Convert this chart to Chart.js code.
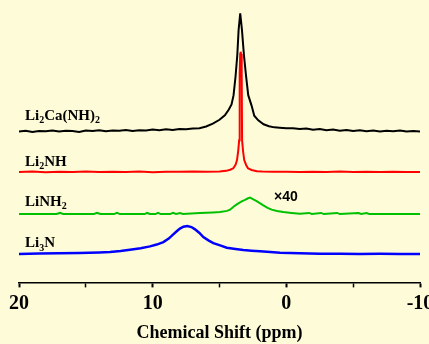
<!DOCTYPE html>
<html>
<head>
<meta charset="utf-8">
<script src="https://cdn.jsdelivr.net/npm/chart.js@4.4.1/dist/chart.umd.min.js"></script>
<style>
  html, body { margin: 0; padding: 0; background: #fefcd8; overflow: hidden; }
  #wrap { position: relative; width: 440px; height: 344px; }
</style>
</head>
<body>
<div id="wrap"><canvas id="nmr" width="440" height="344"></canvas></div>
<script>
// Li2Ca(NH)2 (black)
const caShift = [20, 19.5, 19, 18.5, 18, 17.5, 17, 16.5, 16, 15.5, 15, 14.5, 14, 13.5, 13, 12.5, 12, 11.5, 11, 10.5, 10, 9.5, 9, 8.5, 8, 7.5, 7, 6.5, 6, 5.5, 5, 4.6, 4.3, 4.1, 3.95, 3.8, 3.67, 3.57, 3.45, 3.32, 3.17, 3.02, 2.85, 2.6, 2.4, 2.1, 1.7, 1.3, 0.9, 0.5, 0, -0.5, -1, -1.5, -2, -2.5, -3, -3.5, -4, -4.5, -5, -5.5, -6, -6.5, -7, -7.5, -8, -8.5, -9, -9.5, -10];
const caInt = [0.0, 0.3, -0.1, 0.2, 0.1, 0.4, 0.0, 0.3, 0.2, -0.1, 0.4, 0.2, 0.5, 0.1, 0.4, 0.3, 0.6, 0.2, 0.5, 0.4, 0.7, 0.5, 0.8, 0.6, 0.9, 0.8, 1.1, 1.2, 1.8, 2.8, 4.2, 5.8, 7.8, 9.6, 12.8, 19.5, 27, 36, 41.9, 36, 27, 20, 12.9, 9.2, 5.6, 4.0, 2.6, 1.9, 1.5, 1.4, 1.2, 1.2, 0.9, 1.1, 0.7, 0.9, 0.5, 0.7, 0.3, 0.6, 0.2, 0.5, 0.1, 0.4, 0.0, 0.3, 0.1, 0.4, 0.0, 0.2, 0.0];

// Li2NH (red)
const nhShift = [20, 19, 18, 17, 16, 15, 14, 13, 12, 11, 10, 9, 8, 7, 6, 5, 4.5, 4.2, 3.97, 3.8, 3.69, 3.6, 3.53, 3.49, 3.45, 3.42, 3.39, 3.34, 3.31, 3.24, 3.15, 3.0, 2.87, 2.6, 2.2, 1.8, 1, 0, -1, -2, -3, -4, -5, -6, -7, -8, -9, -10];
const nhInt = [0, 0.15, -0.1, 0.1, 0, 0.15, -0.05, 0.1, 0, 0.15, -0.1, 0.1, 0.05, 0.15, 0.05, 0.2, 0.4, 0.8, 1.3, 2.5, 4.2, 7.5, 11.2, 35, 41.8, 42.6, 41.8, 35, 11.2, 7.5, 4.2, 2.4, 1.3, 0.7, 0.3, 0.15, 0.05, 0.1, -0.05, 0.1, 0, 0.15, -0.05, 0.1, 0, 0.1, -0.05, 0];

// LiNH2 (green, x40)
const amShift = [20, 17.2, 16.93, 16.7, 14.4, 14.16, 13.9, 12.9, 12.67, 12.45, 10.6, 10.42, 10.2, 9.8, 9.6, 9.4, 8.7, 8.48, 8.25, 7.95, 7.75, 6.46, 5.5, 4.96, 4.44, 4.21, 3.95, 3.71, 3.34, 3.09, 2.9, 2.72, 2.5, 2.22, 1.72, 1.4, 1.1, 0.7, 0.23, -0.4, -1.02, -1.7, -1.9, -2.6, -2.8, -3.8, -4.0, -5.4, -5.6, -6.0, -6.2, -10];
const amInt = [0, 0, 0.4, 0, 0, 0.4, 0, 0, 0.45, 0, 0, 0.4, 0.05, 0, 0.4, 0, 0, 0.45, 0.05, 0.4, 0.05, 0.35, 0.55, 0.71, 1.13, 1.56, 2.6, 3.44, 4.5, 5.0, 5.5, 5.8, 5.3, 4.6, 3.1, 2.2, 1.56, 1.1, 0.71, 0.4, 0.14, 0.4, 0.05, 0.4, 0, 0.4, 0, 0.35, 0, 0.35, 0, 0];

// Li3N (blue)
const nShift = [20, 18.5, 17, 15.5, 14, 13.19, 12.4, 11.7, 10.9, 10.2, 9.7, 9.2, 8.8, 8.46, 8.2, 7.96, 7.7, 7.41, 7.1, 6.83, 6.5, 6.21, 5.8, 5.46, 4.9, 4.46, 3.8, 3.22, 2.6, 1.97, 1.2, 0.47, -1, -2.52, -4, -5.5, -7, -8.5, -10];
const nInt = [0, 0.1, 0.25, 0.35, 0.5, 0.64, 1.0, 1.49, 2.0, 2.66, 3.3, 4.18, 5.4, 6.9, 8.0, 8.94, 9.6, 9.86, 9.5, 8.69, 7.4, 5.96, 4.7, 3.83, 2.9, 2.2, 1.75, 1.35, 1.1, 0.89, 0.65, 0.43, 0.25, 0.07, 0.05, 0, 0.05, -0.05, 0];

// vertical stacking offsets, top trace first
const offsets = [53.4, 39.1, 24.2, 10.1];
const xTicks = [20, 15, 10, 5, 0, -5, -10];
const xTickLabels = [20, 10, 0, -10];

const serif = '"Liberation Serif", "Times New Roman", serif';

function toPoints(shift, vals, off) {
  return shift.map((s, i) => ({ x: s, y: vals[i] + off }));
}

// trace names with subscripts, drawn next to each baseline
const traceLabels = [
  [['Li', 0], ['2', 1], ['Ca(NH)', 0], ['2', 1]],
  [['Li', 0], ['2', 1], ['NH', 0]],
  [['LiNH', 0], ['2', 1]],
  [['Li', 0], ['3', 1], ['N', 0]]
];
const labelRise = [12, 6, 8.5, 6.5];

const labelPlugin = {
  id: 'traceLabels',
  afterDatasetsDraw(chart) {
    const ctx = chart.ctx;
    const ys = chart.scales.y;
    const xs = chart.scales.x;
    ctx.save();
    ctx.fillStyle = '#000';
    ctx.textBaseline = 'alphabetic';
    traceLabels.forEach((parts, i) => {
      let px = chart.chartArea.left + 6;
      const py = ys.getPixelForValue(offsets[i]) - labelRise[i];
      parts.forEach(([txt, sub]) => {
        ctx.font = sub ? 'bold 10px ' + serif : 'bold 15px ' + serif;
        ctx.fillText(txt, px, sub ? py + 3.5 : py);
        px += ctx.measureText(txt).width;
      });
    });
    // scale factor note on LiNH2
    ctx.font = 'bold 14px "Liberation Sans", Arial, sans-serif';
    ctx.fillText('\u00d740', xs.getPixelForValue(0.92), ys.getPixelForValue(offsets[2]) - 13.5);
    ctx.restore();
  }
};

const colors = ['#000000', '#ff0000', '#00c000', '#0000ff'];

new Chart(document.getElementById('nmr'), {
  type: 'line',
  data: {
    datasets: [
      { data: toPoints(caShift, caInt, offsets[0]), borderColor: colors[0], borderWidth: 2 },
      { data: toPoints(nhShift, nhInt, offsets[1]), borderColor: colors[1], borderWidth: 2 },
      { data: toPoints(amShift, amInt, offsets[2]), borderColor: colors[2], borderWidth: 2 },
      { data: toPoints(nShift, nInt, offsets[3]), borderColor: colors[3], borderWidth: 2.5 }
    ]
  },
  options: {
    responsive: false,
    animation: false,
    devicePixelRatio: 1,
    layout: { padding: { left: 19, right: 20, top: 0, bottom: 0 } },
    elements: { point: { radius: 0 }, line: { tension: 0 } },
    plugins: { legend: { display: false }, tooltip: { enabled: false } },
    scales: {
      x: {
        type: 'linear',
        reverse: true,
        min: -10,
        max: 20,
        afterBuildTicks: (scale) => { scale.ticks = xTicks.map(v => ({ value: v })); },
        border: { display: true, color: '#000', width: 1.5 },
        grid: {
          drawOnChartArea: false,
          drawTicks: true,
          tickLength: 5,
          tickColor: '#000',
          tickWidth: (c) => (xTickLabels.includes(c.tick && c.tick.value) ? 2 : 1.5)
        },
        ticks: {
          autoSkip: false,
          maxRotation: 0,
          padding: 4,
          color: '#000',
          font: { family: serif, size: 20, weight: 'bold' },
          callback: (v) => (xTickLabels.includes(v) ? String(v) : '')
        },
        title: {
          display: true,
          text: 'Chemical Shift (ppm)',
          color: '#000',
          font: { family: serif, size: 18, weight: 'bold' },
          padding: { top: 3, bottom: 0 }
        }
      },
      y: { display: false, min: 0, max: 100 }
    }
  },
  plugins: [labelPlugin]
});
</script>
</body>
</html>
